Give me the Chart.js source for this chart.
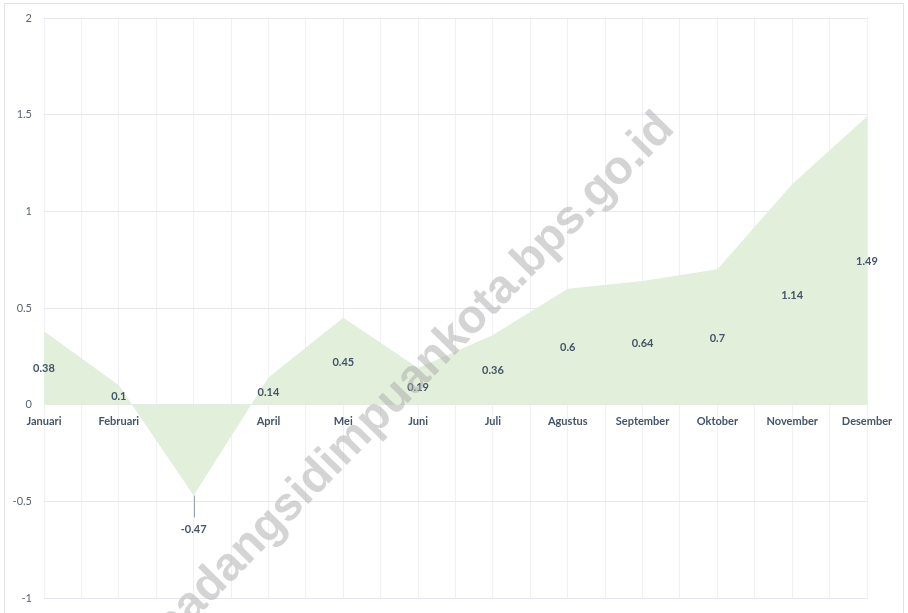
<!DOCTYPE html>
<html>
<head>
<meta charset="utf-8">
<script src="https://cdn.jsdelivr.net/npm/chart.js@4/dist/chart.umd.min.js"></script>
<style>
  html, body { margin: 0; padding: 0; background: #ffffff; }
  canvas { display: block; }
</style>
</head>
<body>
<canvas id="c" width="908" height="613"></canvas>
<script>
// ---- data ----
const categories = ['Januari', 'Februari', 'Maret', 'April', 'Mei', 'Juni', 'Juli', 'Agustus', 'September', 'Oktober', 'November', 'Desember'];
const values = [0.38, 0.1, -0.47, 0.14, 0.45, 0.19, 0.36, 0.6, 0.64, 0.7, 1.14, 1.49];
const yTickValues = [-1, -0.5, 0, 0.5, 1, 1.5, 2];
const watermarkText = 'padangsidimpuankota.bps.go.id';

// ---- styles ----
const labelColor = '#44546A';
const tickColor = '#5b6473';
const fillColor = '#E2EFDA';

const framePlugin = {
  id: 'frame',
  beforeDraw(chart) {
    const ctx = chart.ctx;
    ctx.save();
    ctx.fillStyle = '#ffffff';
    ctx.fillRect(0, 0, chart.width, chart.height);
    ctx.strokeStyle = '#e3e3e3';
    ctx.lineWidth = 1;
    ctx.strokeRect(4.5, 3.5, 899, 660);
    ctx.restore();
  }
};

const dataLabelPlugin = {
  id: 'dataLabels',
  afterDatasetsDraw(chart) {
    const ctx = chart.ctx;
    const xs = chart.scales.x, ys = chart.scales.y;
    ctx.save();
    ctx.font = 'bold 11px Lato';
    ctx.fillStyle = labelColor;
    ctx.textAlign = 'center';
    ctx.textBaseline = 'middle';
    values.forEach((v, i) => {
      const x = xs.getPixelForValue(i);
      if (v >= 0) {
        const y = ys.getPixelForValue(v / 2);
        ctx.fillText(String(v), x, y + 1);
      } else {
        const py = ys.getPixelForValue(v);
        ctx.save();
        ctx.strokeStyle = '#9aa3b0';
        ctx.lineWidth = 1;
        ctx.beginPath();
        ctx.moveTo(Math.round(x) + 0.5, py);
        ctx.lineTo(Math.round(x) + 0.5, py + 22);
        ctx.stroke();
        ctx.restore();
        ctx.fillText(String(v), x, py + 34);
      }
    });
    ctx.restore();
  }
};

const watermarkPlugin = {
  id: 'watermark',
  afterDraw(chart) {
    const ctx = chart.ctx;
    ctx.save();
    ctx.translate(414, 378);
    ctx.rotate(-45.5 * Math.PI / 180);
    ctx.font = 'bold 47px "Liberation Sans"';
    ctx.fillStyle = 'rgba(170,170,170,0.5)';
    ctx.textAlign = 'center';
    ctx.textBaseline = 'middle';
    ctx.fillText(watermarkText, 0, 0);
    ctx.restore();
  }
};

new Chart(document.getElementById('c'), {
  type: 'line',
  data: {
    datasets: [{
      data: values.map((v, i) => ({ x: i, y: v })),
      backgroundColor: fillColor,
      borderWidth: 0,
      borderColor: 'rgba(0,0,0,0)',
      pointRadius: 0,
      pointHoverRadius: 0,
      fill: 'origin',
      tension: 0
    }]
  },
  options: {
    responsive: false,
    animation: false,
    events: [],
    layout: { padding: { left: 0, top: 18, right: 41, bottom: 15 } },
    plugins: { legend: { display: false }, tooltip: { enabled: false } },
    scales: {
      x: {
        type: 'linear',
        position: { y: 0 },
        min: 0,
        max: categories.length - 1,
        afterBuildTicks: (s) => {
          const t = [];
          for (let k = 0; k <= (categories.length - 1) * 2; k++) t.push({ value: k / 2 });
          s.ticks = t;
        },
        afterFit: (s) => { s.height = 0; },
        grid: { color: '#eef0f4', lineWidth: 1, drawTicks: false },
        border: { display: false },
        ticks: {
          autoSkip: false,
          maxRotation: 0,
          minRotation: 0,
          padding: 10,
          color: labelColor,
          font: { family: 'Lato', size: 11, weight: 'bold' },
          callback: (v) => Number.isInteger(v) ? categories[v] : ''
        }
      },
      y: {
        min: -1,
        max: 2,
        afterBuildTicks: (s) => { s.ticks = yTickValues.map(v => ({ value: v })); },
        afterFit: (s) => { s.width = 44; s.paddingTop = 0; s.paddingBottom = 0; },
        grid: { color: '#e4e7ee', lineWidth: 1, drawTicks: false },
        border: { display: false },
        ticks: {
          padding: 12,
          color: tickColor,
          font: { family: 'Lato', size: 11 },
          callback: (v) => String(v)
        }
      }
    }
  },
  plugins: [framePlugin, dataLabelPlugin, watermarkPlugin]
});
</script>
</body>
</html>
